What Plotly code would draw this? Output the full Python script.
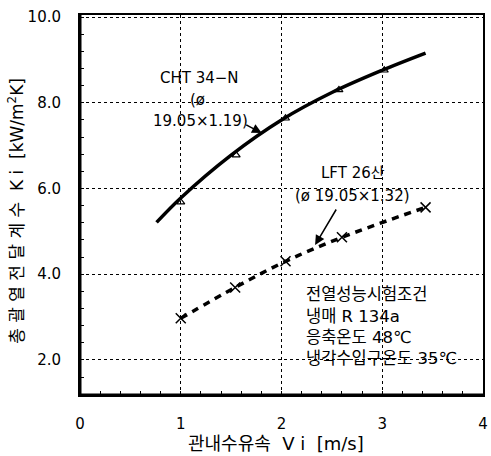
import plotly.graph_objects as go

# CHT 34-N (triangles) measured points
cht_x = [1.0, 1.55, 2.04, 2.57, 3.02]
cht_y = [5.68, 6.78, 7.64, 8.30, 8.76]
# fitted curve through CHT
cht_fit_x = [0.76, 1.0, 1.5, 2.0, 2.5, 3.0, 3.43]
cht_fit_y = [5.21, 5.78, 6.78, 7.60, 8.24, 8.76, 9.16]

# LFT 26산 (crosses)
lft_x = [1.0, 1.54, 2.04, 2.6, 3.43]
lft_y = [2.97, 3.69, 4.30, 4.86, 5.56]

x_ticks = [0, 1, 2, 3, 4]
y_ticks = [2, 4, 6, 8, 10]
y_tick_text = ["2.0", "4.0", "6.0", "8.0", "10.0"]

FONT = "DejaVu Sans, Noto Sans CJK KR, sans-serif"
W, H = 491, 456
L, R, T, B = 80, 3, 15, 61
PW, PH = W - L - R, H - T - B


def px(x):
    return (x - L) / PW


def py(y):
    return (H - B - y) / PH


fig = go.Figure()
fig.add_trace(go.Scatter(x=cht_fit_x, y=cht_fit_y, mode="lines",
                         line=dict(color="black", width=3.5, shape="spline"),
                         showlegend=False, hoverinfo="skip"))
fig.add_trace(go.Scatter(x=cht_x, y=cht_y, mode="markers",
                         marker=dict(symbol="triangle-up-open", size=7, color="black",
                                     line=dict(width=1.2)),
                         showlegend=False))
fig.add_trace(go.Scatter(x=lft_x, y=lft_y, mode="lines+markers",
                         line=dict(color="black", width=3.5, dash="7px,6px", shape="spline"),
                         marker=dict(symbol="x-thin-open", size=10, color="black",
                                     line=dict(width=1.5, color="black")),
                         showlegend=False))

axis_common = dict(showline=True, linecolor="black", linewidth=2, mirror=True,
                   showgrid=True, gridcolor="black", gridwidth=1, griddash="dot",
                   zeroline=False, ticks="", tickfont=dict(size=15, color="black", family=FONT))

fig.update_xaxes(range=[0, 4], tickvals=x_ticks, ticktext=[str(v) for v in x_ticks],
                 ticklabelstandoff=14,
                 minor=dict(ticks="inside", ticklen=4, tickcolor="black", dtick=0.2, showgrid=False),
                 **axis_common)
fig.update_yaxes(range=[1.18, 10.05], tickvals=y_ticks, ticktext=y_tick_text,
                 ticklabelstandoff=14,
                 minor=dict(ticks="inside", ticklen=4, tickcolor="black", dtick=0.4, showgrid=False),
                 **axis_common)

# thicker left / bottom frame like the reference
fig.add_shape(type="line", xref="paper", yref="paper", x0=0, x1=0, y0=0, y1=1,
              line=dict(color="black", width=3))
fig.add_shape(type="line", xref="paper", yref="paper", x0=0, x1=1, y0=0, y1=0,
              line=dict(color="black", width=3))

ann_font = dict(family=FONT, size=15, color="black")
annotations = [
    dict(x=201, y=78, text="CHT 34−N"),
    dict(x=199, y=100, text="(ø"),
    dict(x=202, y=121, text="19.05×1.19)"),
    dict(x=356, y=173, text="LFT 26산"),
    dict(x=356, y=196, text="(ø 19.05×1.32)"),
]
for a in annotations:
    fig.add_annotation(x=px(a["x"]), y=py(a["y"]), xref="paper", yref="paper",
                       text=a["text"], showarrow=False, font=ann_font,
                       xanchor="center", yanchor="middle")

# condition block
cond = ["전열성능시험조건", "냉매 R 134a", "응축온도 48℃", "냉각수입구온도 35℃"]
cond_y = [294, 316, 337, 358]
for t, yy in zip(cond, cond_y):
    fig.add_annotation(x=px(307), y=py(yy), xref="paper", yref="paper",
                       text=t, showarrow=False, font=dict(family=FONT, size=16.5, color="black"),
                       xanchor="left", yanchor="middle")

# arrows (pixel coords: tail -> head)
for (x0, y0, x1, y1) in [(247, 124, 264, 133), (340, 208, 318, 245)]:
    fig.add_annotation(x=px(x1), y=py(y1), xref="paper", yref="paper",
                       ax=x0 - x1, ay=y0 - y1, axref="pixel", ayref="pixel",
                       text="", showarrow=True,
                       arrowhead=2, arrowsize=1.3, arrowwidth=1.5, arrowcolor="black")

# axis titles
fig.add_annotation(x=px(278), y=py(443), xref="paper", yref="paper",
                   text="관내수유속  V i  [m/s]", showarrow=False,
                   xanchor="center", yanchor="middle",
                   font=dict(family=FONT, size=18, color="black"))
fig.add_annotation(x=px(15), y=py(211), xref="paper", yref="paper",
                   text="총 괄 열 전 달 계 수  K i  [kW/m<sup>2</sup>K]", showarrow=False,
                   textangle=-90, xanchor="center", yanchor="middle",
                   font=dict(family=FONT, size=17, color="black"))

fig.update_layout(width=W, height=H, margin=dict(l=L, r=R, t=T, b=B),
                  plot_bgcolor="white", paper_bgcolor="white",
                  font=dict(family=FONT, color="black"))

fig.write_html("out.html")
